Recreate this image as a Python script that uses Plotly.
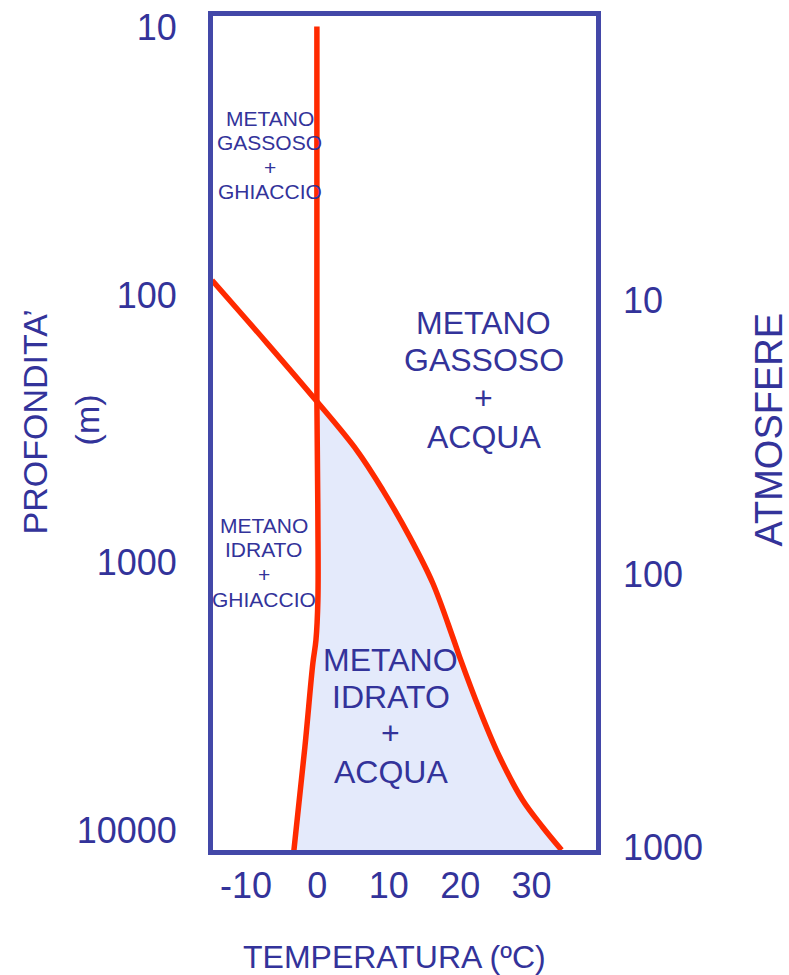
import plotly.graph_objects as go

# ---- data ----
depth_ticks = [10, 100, 1000, 10000]
atm_ticks = [10, 100, 1000]
temp_ticks = [-10, 0, 10, 20, 30]

# ice melting line (temperature °C, depth m)
ice_T = [-0.07, -0.07, 0.07, 0.07, -0.2, -0.63, -1.75, -3.29]
ice_D = [9.9, 250, 693, 1380, 1946, 2371, 4887, 11900]

# hydrate stability curve (temperature °C, depth m)
hyd_T = [-14.76, -7.06, -0.21, 5.52, 9.16, 12.94, 16.15, 18.95, 19.93, 22.73, 25.52, 28.74, 31.54, 34.2]
hyd_D = [87.9, 151, 247, 380, 535, 802, 1191, 1896, 2254, 3556, 5324, 7709, 9725, 11860]

TXT = "#33339A"
FRAME = "#4348A8"
RED = "#FF2A00"
FILL = "#E4EAFB"
FONT = "Liberation Sans, Arial, sans-serif"

# plot-area geometry helpers (page pixels -> axis units), used only to place text
X0, XS = 317.5, 7.15          # pixel of 0 °C, pixels per °C
Y0, YS = 13.0, 267.7          # pixel of log10(depth)=0.947, pixels per decade
def tx(px): return (px - X0) / XS
def ty(py): return 0.947 + (py - Y0) / YS

fig = go.Figure()
# hydrate + water field (between the ice line and the hydrate curve)
fig.add_trace(go.Scatter(x=ice_T[1:], y=ice_D[1:], mode="lines",
                         line=dict(width=0, shape="spline"),
                         hoverinfo="skip", showlegend=False))
fig.add_trace(go.Scatter(x=hyd_T[2:], y=hyd_D[2:], mode="lines", fill="tonextx",
                         fillcolor=FILL, line=dict(width=0, shape="spline"),
                         hoverinfo="skip", showlegend=False))
fig.add_trace(go.Scatter(x=ice_T, y=ice_D, mode="lines",
                         line=dict(color=RED, width=5.5, shape="spline"),
                         showlegend=False))
fig.add_trace(go.Scatter(x=hyd_T, y=hyd_D, mode="lines",
                         line=dict(color=RED, width=5.5, shape="spline"),
                         showlegend=False))
# carrier for the pressure axis (no visible mark)
fig.add_trace(go.Scatter(x=[None], y=[None], yaxis="y2", mode="lines",
                         hoverinfo="skip", showlegend=False))

def block(lines, px, pys, size):
    for t, py in zip(lines, pys):
        fig.add_annotation(text=t, x=tx(px), y=ty(py), xref="x", yref="y",
                           showarrow=False, xanchor="center", yanchor="middle",
                           font=dict(family=FONT, size=size, color=TXT))

block(["METANO", "GASSOSO", "+", "GHIACCIO"], 270, [118, 142, 167, 191], 21)
block(["METANO", "IDRATO", "+", "GHIACCIO"], 264, [525, 549, 574, 599], 21)
block(["METANO", "GASSOSO", "+", "ACQUA"], 484, [323, 360, 398, 437], 32)
block(["METANO", "IDRATO", "+", "ACQUA"], 391, [660, 697, 733, 772], 32)

def ptxt(text, px, py, size, angle=0):
    fig.add_annotation(text=text, x=(px - 213) / 383.5, y=(850 - py) / 834.5,
                       xref="paper", yref="paper", showarrow=False,
                       xanchor="center", yanchor="middle",
                       textangle=angle, font=dict(family=FONT, size=size, color=TXT))

ptxt("PROFONDITA’", 35, 422, 34, -90)
ptxt("(m)", 87, 420, 34, -90)
ptxt("ATMOSFERE", 770, 429, 38, -90)
ptxt("TEMPERATURA (ºC)", 395, 957, 32)

fig.update_layout(
    width=789, height=975,
    margin=dict(l=213, r=192.5, t=15.5, b=125, autoexpand=False),
    paper_bgcolor="white", plot_bgcolor="white",
    xaxis=dict(range=[-14.62, 39.02], tickvals=temp_ticks,
               ticktext=[str(v) for v in temp_ticks], automargin=False,
               showgrid=False, zeroline=False, showline=True, linewidth=5,
               linecolor=FRAME, mirror=True, ticks="",
               ticklabelstandoff=0, ticklabeloverflow="allow",
               tickfont=dict(family=FONT, size=36, color=TXT)),
    yaxis=dict(type="log", range=[4.074, 0.956], tickvals=depth_ticks,
               ticktext=[str(v) for v in depth_ticks], automargin=False,
               showgrid=False, zeroline=False, showline=True, linewidth=5,
               linecolor=FRAME, mirror=True, ticks="",
               ticklabelstandoff=24, ticklabeloverflow="allow",
               tickfont=dict(family=FONT, size=36, color=TXT)),
    yaxis2=dict(type="log", range=[3.010, -0.041], overlaying="y", side="right",
                anchor="x", tickvals=atm_ticks, automargin=False,
                ticktext=[str(v) for v in atm_ticks],
                showgrid=False, zeroline=False, showline=False, ticks="",
                ticklabelstandoff=26, ticklabeloverflow="allow",
                tickfont=dict(family=FONT, size=36, color=TXT)),
    showlegend=False,
)

fig.write_html("out.html", config={"displayModeBar": False},
               post_script="document.body.style.margin='0px';")
